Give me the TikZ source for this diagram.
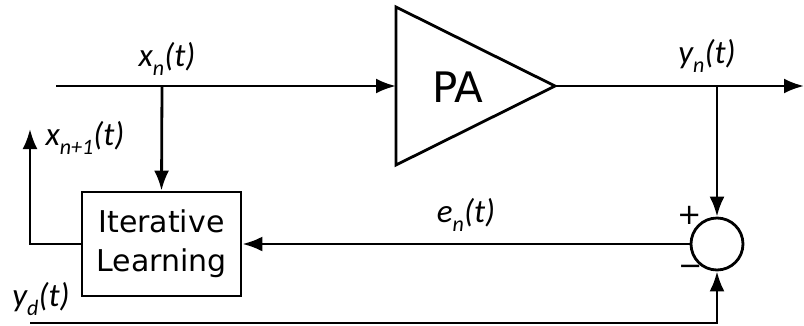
\documentclass[tikz,border=0pt]{standalone}
\usepackage{fontspec}
\setmainfont{DejaVu Sans}
\newfontfamily\labelfont{Carlito}
\usetikzlibrary{arrows.meta,positioning}

\newcommand{\sig}[2]{#1\raisebox{-0.26em}{\fontsize{22}{22}\selectfont #2}(t)}

\begin{document}
\begin{tikzpicture}[
    x=1pt, y=-1pt,
    line width=2.8pt,
    >={Latex[length=20pt,width=15pt]},
    block/.style={draw, minimum width=159pt, minimum height=104pt, inner sep=0pt,
        align=center, font=\fontsize{30}{39}\selectfont},
    sumnode/.style={draw, circle, minimum size=52pt, inner sep=0pt},
    signal/.style={inner sep=0pt, font=\labelfont\itshape\fontsize{33}{33}\selectfont},
    sign/.style={inner sep=0pt, font=\fontsize{29}{29}\selectfont}
]
  \useasboundingbox (0,0) rectangle (804,325);

  % power amplifier
  \coordinate (pa top) at (396,7);
  \coordinate (pa in) at (396,86);
  \coordinate (pa bot) at (396,165);
  \coordinate (pa out) at (555,86);
  \draw[line join=miter] (pa top) -- (pa out) -- (pa bot) -- cycle;
  \node[font=\fontsize{42}{42}\selectfont] (pa) at (458,87) {PA};

  % blocks
  \node[block] (ilc) at (161.5,244) {Iterative\\Learning};
  \node[sumnode] (sum) at (717,244) {};

  % coordinates of the signal lines
  \coordinate (in) at (56,86);
  \coordinate (xsplit) at (162,86);
  \coordinate (ysplit) at (717,86);
  \coordinate (out) at (804,86);
  \coordinate (next) at (30,129);
  \coordinate (ref) at (30,323);

  % connectors
  \draw[->] (in) -- (pa in);
  \draw[->] (pa out) -- (out);
  \draw[->] (xsplit) -- (ilc.north);
  \draw[->] (ysplit) -- (sum.north);
  \draw[->] (sum.west) -- (ilc.east);
  \draw[->] (ilc.west) -| (next);
  \draw[->] (ref) -| (sum.south);

  % labels
  \node[signal] (xn) at (167,59) {\sig{x}{n}};
  \node[signal] (yn) at (707,56) {\sig{y}{n}};
  \node[signal] (xnext) at (85,138) {\sig{x}{n+1}};
  \node[signal] (yd) at (41,299) {\sig{y}{d}};
  \node[signal] (en) at (466,215) {\sig{e}{n}};
  \node[sign] (plus) at (690,215) {+};
  \node[sign] (minus) at (691,270) {\textminus};
\end{tikzpicture}
\end{document}
